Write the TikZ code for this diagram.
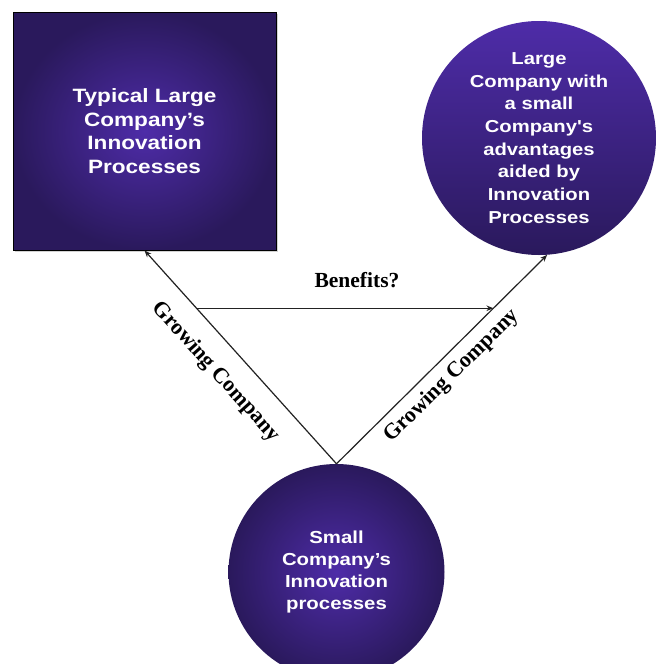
\documentclass[tikz,border=0pt]{standalone}
\usepackage{fontspec}
\setmainfont{Liberation Serif}
\newfontfamily\boxfont[FakeStretch=1.17]{Liberation Sans}
\usetikzlibrary{arrows.meta,calc,shadows}

\definecolor{violetdark}{HTML}{2A195C}
\definecolor{violetmid}{HTML}{3A2282}
\definecolor{violetlight}{HTML}{4E2CA8}
\definecolor{inkline}{HTML}{222222}

\begin{document}
\begin{tikzpicture}[x=1pt,y=-1pt,
  boxtext/.style={text=white, align=center,
    font=\boxfont\bfseries\fontsize{19.3}{23.5}\selectfont},
  processbox/.style={boxtext, rectangle, draw=black, line width=0.8pt,
    inner color=violetlight, outer color=violetdark,
    drop shadow={shadow xshift=1.5pt, shadow yshift=-1.5pt, opacity=0.35, fill=gray}},
  goalcircle/.style={boxtext, circle, inner sep=0pt,
    top color=violetlight, bottom color=violetdark},
  startcircle/.style={boxtext, circle, inner sep=0pt,
    inner color=violetlight, outer color=violetdark},
  conn/.style={draw=inkline, line width=1.2pt,
    -{Stealth[length=7pt,width=5.5pt]}},
  pathlabel/.style={inner sep=0pt, text=black,
    font=\bfseries\fontsize{22}{26}\selectfont}
]
\useasboundingbox (0,0) rectangle (664,664);
\clip (0,0) rectangle (664,664);
\fill[white] (0,0) rectangle (664,664);

% the three stages
\node[processbox, minimum width=263pt, minimum height=238pt] (sq) at (144.5,131)
  {Typical Large\\Company’s\\Innovation\\Processes};
\node[goalcircle, minimum size=234pt, font=\boxfont\bfseries\fontsize{17.3}{22.7}\selectfont] (tr) at (539,138)
  {Large\\Company with\\a small\\Company\char"27 s\\advantages\\aided by\\Innovation\\Processes};
\node[startcircle, minimum size=216pt, font=\boxfont\bfseries\fontsize{17.4}{22.3}\selectfont] (bc) at (336.5,572)
  {Small\\Company’s\\Innovation\\processes};

% growth paths
\draw[conn] (bc.north) -- (sq.south);
\draw[conn] (bc.north) -- (tr.-86);

% benefit link between the two paths
\path (bc.north) -- (sq.south) coordinate[pos=0.729] (bl);
\path (bc.north) -- (tr.-86) coordinate[pos=0.745] (br);
\draw[conn] (bl) -- (bl -| br);

% labels
\node[pathlabel, font=\bfseries\fontsize{21.5}{26}\selectfont] (benefits) at (357,280) {Benefits?};
\node[pathlabel, rotate=-48] (growleft) at (216,372) {Growing Company};
\node[pathlabel, rotate=44.6] (growright) at (452,376) {Growing Company};
\end{tikzpicture}
\end{document}
